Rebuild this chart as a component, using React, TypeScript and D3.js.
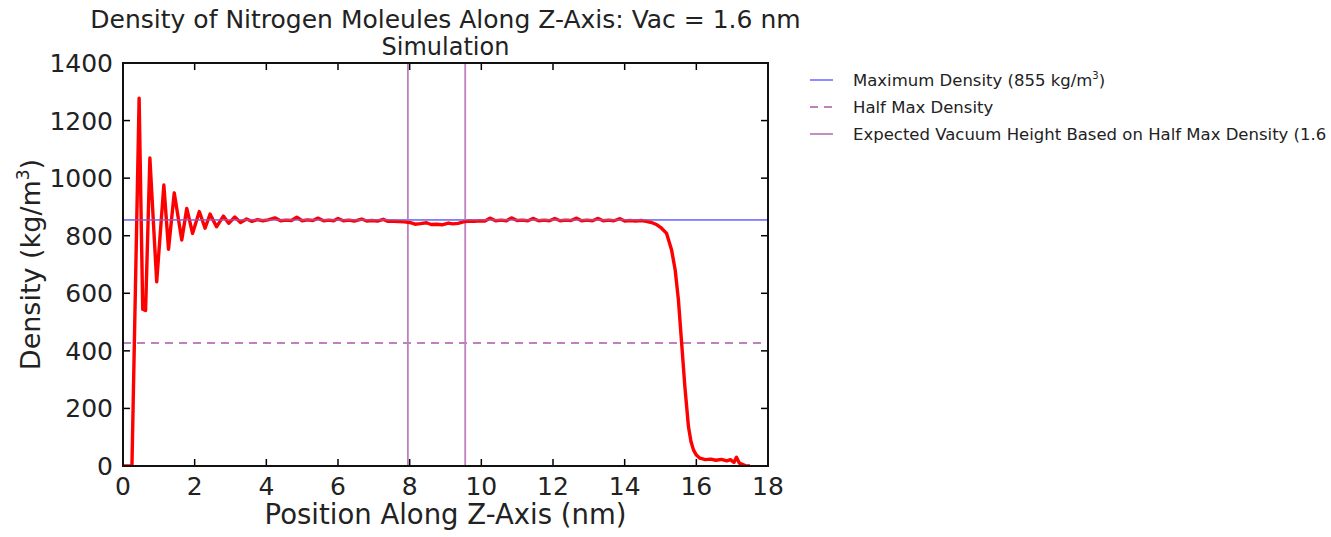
import React from "react";
import * as d3 from "d3";

const posNm: number[] = [
  0, 0.1, 0.2, 0.25, 0.45, 0.55, 0.63, 0.75, 0.94, 1.14, 1.27, 1.43, 1.64, 1.78, 1.94, 2.13, 2.29, 2.43, 2.61, 2.8,
  2.95, 3.12, 3.28, 3.45, 3.6, 3.75, 3.9, 4.05, 4.24, 4.4, 4.55, 4.7, 4.85, 5.0, 5.15, 5.3, 5.44, 5.6, 5.75, 5.88,
  6.0, 6.15, 6.3, 6.45, 6.66, 6.8, 6.95, 7.1, 7.26, 7.4, 7.55, 7.7, 7.85, 8.0, 8.15, 8.3, 8.47, 8.6, 8.75, 8.9,
  9.08, 9.2, 9.35, 9.5, 9.65, 9.8, 9.95, 10.1, 10.24, 10.4, 10.55, 10.7, 10.84, 11.0, 11.15, 11.3, 11.44, 11.6, 11.75, 11.9,
  12.05, 12.2, 12.35, 12.5, 12.66, 12.8, 12.95, 13.1, 13.26, 13.4, 13.55, 13.7, 13.87, 14.0, 14.15, 14.3, 14.47, 14.6, 14.75, 14.9,
  15.03, 15.17, 15.31, 15.41, 15.5, 15.59, 15.68, 15.78, 15.85, 15.92, 16.0, 16.1, 16.25, 16.4, 16.55, 16.7, 16.85, 16.95, 17.05, 17.12,
  17.2, 17.3, 17.4, 17.5,
];
const density: number[] = [
  0, 0, 0, 0, 1278, 545, 540, 1070, 640, 976, 753, 949, 785, 895, 808, 884, 826, 875, 831, 868,
  843, 865, 846, 858, 850, 856, 852, 855, 862, 852, 854, 853, 864, 852, 855, 853, 861, 852, 854, 852,
  860, 852, 854, 851, 858, 851, 853, 851, 857, 850, 850, 849, 848, 846, 840, 842, 845, 839, 840, 838,
  844, 841, 843, 848, 851, 850, 852, 851, 861, 852, 854, 852, 862, 853, 854, 852, 860, 852, 854, 852,
  860, 852, 854, 853, 861, 852, 854, 852, 860, 852, 854, 852, 859, 851, 853, 851, 853, 850, 846, 838,
  826, 808, 750, 681, 577, 427, 276, 137, 85, 56, 38, 27, 22, 24, 20, 23, 18, 22, 12, 30,
  10, 5, 0, 0,
];
const maxDensity = 855;
const vacuumEdges: number[] = [7.95, 9.55];
const xTicks: number[] = [0, 2, 4, 6, 8, 10, 12, 14, 16, 18];
const yTicks: number[] = [0, 200, 400, 600, 800, 1000, 1200, 1400];

const W = 1331;
const H = 537;
const L = 123, R = 768, T = 63, B = 466;
const FONT = "'DejaVu Sans', sans-serif";

export default function App() {
  const x = d3.scaleLinear().domain([0, 18]).range([L, R]);
  const y = d3.scaleLinear().domain([0, 1400]).range([B, T]);
  const pts = posNm.map((p, i) => [p, density[i]] as [number, number]);
  const line = d3.line<[number, number]>().x((d) => x(d[0])).y((d) => y(d[1]));
  const blue = "#8080ff";
  const purple = "#bf80bf";
  const tk = 7;
  return (
    <svg width={W} height={H} style={{ position: "absolute", left: 0, top: 0, background: "#fff" }} fontFamily={FONT}>
      <rect x={0} y={0} width={W} height={H} fill="#fff" />
      <text x={(L + R) / 2} y={28} textAnchor="middle" fontSize={25} fill="#222">
        Density of Nitrogen Moleules Along Z-Axis: Vac = 1.6 nm
      </text>
      <text x={(L + R) / 2} y={55} textAnchor="middle" fontSize={24} fill="#222">
        Simulation
      </text>
      <defs>
        <clipPath id="plotclip">
          <rect x={L} y={T} width={R - L} height={B - T} />
        </clipPath>
      </defs>
      <g clipPath="url(#plotclip)">
        <line x1={L} x2={R} y1={y(maxDensity)} y2={y(maxDensity)} stroke={blue} strokeWidth={1.8} />
        <line x1={L} x2={R} y1={y(maxDensity / 2)} y2={y(maxDensity / 2)} stroke={purple} strokeWidth={2} strokeDasharray="8,6" />
        {vacuumEdges.map((v, i) => (
          <line key={i} x1={x(v)} x2={x(v)} y1={T} y2={B} stroke={purple} strokeWidth={1.8} />
        ))}
        <path d={line(pts) || ""} fill="none" stroke="#ff0000" strokeWidth={3.4} strokeLinejoin="round" />
        <line x1={L} x2={R} y1={y(maxDensity)} y2={y(maxDensity)} stroke={blue} strokeOpacity={0.5} strokeWidth={1.8} />
      </g>
      {xTicks.map((t) => (
        <g key={"x" + t}>
          <line x1={x(t)} x2={x(t)} y1={B} y2={B - tk} stroke="#000" strokeWidth={1.5} />
          <line x1={x(t)} x2={x(t)} y1={T} y2={T + tk} stroke="#000" strokeWidth={1.5} />
          <text x={x(t)} y={495} textAnchor="middle" fontSize={25} fill="#222">{t}</text>
        </g>
      ))}
      {yTicks.map((t) => (
        <g key={"y" + t}>
          <line x1={L} x2={L + tk} y1={y(t)} y2={y(t)} stroke="#000" strokeWidth={1.5} />
          <line x1={R} x2={R - tk} y1={y(t)} y2={y(t)} stroke="#000" strokeWidth={1.5} />
          <text x={113} y={y(t) + 9} textAnchor="end" fontSize={25} fill="#222">{t}</text>
        </g>
      ))}
      <rect x={L} y={T} width={R - L} height={B - T} fill="none" stroke="#111" strokeWidth={2} />
      <text x={(L + R) / 2} y={524} textAnchor="middle" fontSize={27.5} fill="#222">
        Position Along Z-Axis (nm)
      </text>
      <text transform={`translate(40,${(T + B) / 2}) rotate(-90)`} textAnchor="middle" fontSize={27} fill="#222">
        Density (kg/m<tspan fontSize={17} dy={-11}>3</tspan><tspan dy={11}>)</tspan>
      </text>
      <g fontSize={16.5} fill="#222">
        <line x1={810} x2={833} y1={80} y2={80} stroke={blue} strokeWidth={1.8} />
        <text x={853} y={86}>
          Maximum Density (855 kg/m<tspan fontSize={10} dy={-7}>3</tspan><tspan dy={7}>)</tspan>
        </text>
        <line x1={810} x2={833} y1={107} y2={107} stroke={purple} strokeWidth={2} strokeDasharray="8,6" />
        <text x={853} y={113}>Half Max Density</text>
        <line x1={810} x2={833} y1={134} y2={134} stroke={purple} strokeWidth={1.8} />
        <text x={853} y={140}>Expected Vacuum Height Based on Half Max Density (1.6 nm)</text>
      </g>
    </svg>
  );
}
